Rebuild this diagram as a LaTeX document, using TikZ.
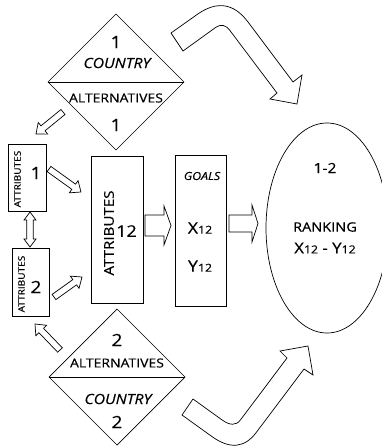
\documentclass[tikz,border=0pt]{standalone}
\usepackage{fontspec}
\setmainfont[FakeStretch=1.12,FakeBold=0.4]{Open Sans}
\usetikzlibrary{shapes.geometric,calc}

% font size helper
\newcommand{\fsz}[1]{\fontsize{#1}{#1}\selectfont}

% hollow block arrow: #1 tail, #2 tip, #3 shaft half width, #4 head half width, #5 head length
\newcommand{\blockarrow}[5]{%
  \path ($(#2)!#5!(#1)$) coordinate (hb);
  \draw[flow] ($(#1)!#3!90:(#2)$) -- ($(hb)!#3!90:(#2)$) -- ($(hb)!#4!90:(#2)$)
    -- (#2) -- ($(hb)!#4!-90:(#2)$) -- ($(hb)!#3!-90:(#2)$) -- ($(#1)!#3!-90:(#2)$) -- cycle;
}
% hollow block arrow with heads at both ends
\newcommand{\doublearrow}[5]{%
  \path ($(#2)!#5!(#1)$) coordinate (hb);
  \path ($(#1)!#5!(#2)$) coordinate (ha);
  \draw[flow] (#1) -- ($(ha)!#4!90:(#2)$) -- ($(ha)!#3!90:(#2)$) -- ($(hb)!#3!90:(#2)$) -- ($(hb)!#4!90:(#2)$)
    -- (#2) -- ($(hb)!#4!-90:(#2)$) -- ($(hb)!#3!-90:(#2)$) -- ($(ha)!#3!-90:(#2)$) -- ($(ha)!#4!-90:(#2)$) -- cycle;
}

\tikzset{
  outline/.style={draw=black, line width=0.7pt, inner sep=0pt, outer sep=0pt},
  flow/.style={draw=black, line width=0.7pt, fill=white, line join=miter},
  lbl/.style={inner sep=0pt, text=black},
}

\begin{document}
\begin{tikzpicture}[x=1pt,y=-1pt]
\useasboundingbox (0,0) rectangle (382,447);
\clip (0,0) rectangle (382,447);

% ---- country 1 diamond ----
\node[diamond, outline, minimum width=136pt, minimum height=136pt] (c1) at (116,82) {};
\draw[line width=0.7pt] (c1.west) -- (c1.east);
\node[lbl, font=\fsz{17}] (c1n) at (116,42) {1};
\node[lbl, font=\fsz{14}\itshape] (c1c) at (117,63) {COUNTRY};
\node[lbl, font=\fsz{12.5}] (c1a) at (116,98) {ALTERNATIVES};
\node[lbl, font=\fsz{17}] (c1m) at (116,125) {1};

% ---- country 2 diamond ----
\node[diamond, outline, minimum width=136pt, minimum height=136pt] (c2) at (117,377) {};
\draw[line width=0.7pt] (c2.west) -- (c2.east);
\node[lbl, font=\fsz{17}] (c2n) at (117,340) {2};
\node[lbl, font=\fsz{12.5}] (c2a) at (117,363) {ALTERNATIVES};
\node[lbl, font=\fsz{14}\itshape] (c2c) at (118,399) {COUNTRY};
\node[lbl, font=\fsz{17}] (c2m) at (117,422) {2};

% ---- attribute boxes ----
\node[rectangle, outline, minimum width=38pt, minimum height=67pt] (a1) at (27,177.5) {};
\node[lbl, font=\fsz{9}, rotate=90] (a1t) at (17.5,179) {ATTRIBUTES};
\node[lbl, font=\fsz{17}] (a1n) at (36,173) {1};

\node[rectangle, outline, minimum width=37pt, minimum height=68pt] (a2) at (30.5,282) {};
\node[lbl, font=\fsz{9}, rotate=90] (a2t) at (21.5,284) {ATTRIBUTES};
\node[lbl, font=\fsz{17}] (a2n) at (36,287) {2};

\node[rectangle, outline, minimum width=52pt, minimum height=147pt] (a12) at (117,229.5) {};
\node[lbl, font=\fsz{13.5}, rotate=90] (a12t) at (109,233) {ATTRIBUTES};
\node[lbl, font=\fsz{16}] (a12n) at (126.5,231) {12};

% ---- goals box ----
\node[rectangle, outline, minimum width=51pt, minimum height=151pt] (g) at (200.5,230.5) {};
\node[lbl, font=\fsz{11}\itshape] (gt) at (202,176) {GOALS};
\node[lbl, font=\fsz{16}] (gx) at (200,228) {X{\fsz{11}12}};
\node[lbl, font=\fsz{16}] (gy) at (200,266) {Y{\fsz{11}12}};

% ---- ranking ellipse ----
\node[ellipse, outline, minimum width=122pt, minimum height=210pt] (r) at (327,228) {};
\node[lbl, font=\fsz{14}] (r1) at (325,168) {1-2};
\node[lbl, font=\fsz{13}] (r2) at (325,227) {RANKING};
\node[lbl, font=\fsz{15}] (r3) at (325,248) {X{\fsz{11}12} - Y{\fsz{11}12}};

% ---- small hollow arrows ----
\coordinate (p1s) at (63,112);  \coordinate (p1e) at (36,134);
\coordinate (p2s) at (49,169);  \coordinate (p2e) at (81,192);
\coordinate (p3s) at (54,297);  \coordinate (p3e) at (82,277);
\coordinate (p4s) at (60,350);  \coordinate (p4e) at (35,324);
\coordinate (p5s) at (30,212);  \coordinate (p5e) at (30,247);
\blockarrow{p1s}{p1e}{3.2pt}{7.5pt}{9pt}
\blockarrow{p2s}{p2e}{3.2pt}{7.5pt}{9pt}
\blockarrow{p3s}{p3e}{3.2pt}{7.5pt}{9pt}
\blockarrow{p4s}{p4e}{3.2pt}{7.5pt}{9pt}
\doublearrow{p5s}{p5e}{3.2pt}{6pt}{8pt}

% ---- wide arrows between the boxes ----
\coordinate (q1s) at ($(a12.east)+(2,-4)$); \coordinate (q1e) at (171,225.5);
\blockarrow{q1s}{q1e}{10.5pt}{19.5pt}{7pt}
\coordinate (q2s) at ($(g.east)+(3,-7)$); \coordinate (q2e) at (258,223.5);
\blockarrow{q2s}{q2e}{8.5pt}{18.5pt}{6pt}

% ---- bent arrow from country 1 to the ranking ----
\draw[flow] (171,33) -- (198,13.9) .. controls (217.3,0.6) and (234,3.3) .. (248,22)
  -- (293,82) -- (302,75) -- (297,104) -- (270,99) -- (277,93)
  -- (230.3,31) .. controls (226.1,25) and (221.3,23.7) .. (216,27.2)
  -- (183,51) -- cycle;

% ---- bent arrow from country 2 to the ranking ----
\draw[flow] (182,415) -- (212,436.6) .. controls (230,449.5) and (244.9,448) .. (256.6,432)
  -- (304,369) -- (313,375) -- (308,346) -- (280,351) -- (287,358)
  -- (240.4,420) .. controls (236.1,425.7) and (230,425.6) .. (222,419.9)
  -- (193,399) -- cycle;
\end{tikzpicture}
\end{document}
